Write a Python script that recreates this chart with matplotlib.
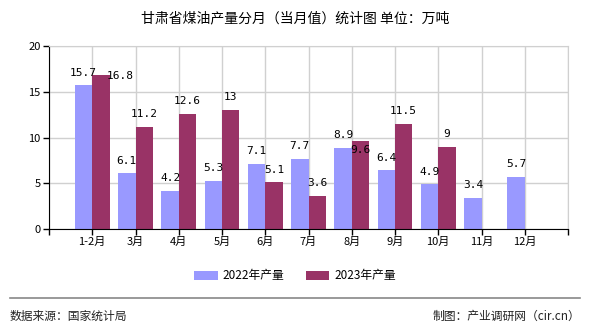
import matplotlib
matplotlib.use("Agg")
import matplotlib.pyplot as plt
import numpy as np

plt.rcParams["font.family"] = ["Noto Sans CJK SC", "DejaVu Sans"]

# data
months = ["1-2月", "3月", "4月", "5月", "6月", "7月", "8月", "9月", "10月", "11月", "12月"]
prod_2022 = [15.7, 6.1, 4.2, 5.3, 7.1, 7.7, 8.9, 6.4, 4.9, 3.4, 5.7]
prod_2023 = [16.8, 11.2, 12.6, 13, 5.1, 3.6, 9.6, 11.5, 9, None, None]
yticks = [0, 5, 10, 15, 20]

c22 = "#9999FF"
c23 = "#993366"
width = 0.4

fig = plt.figure(figsize=(5.9, 3.3), dpi=100)
ax = fig.add_axes([49 / 590, 1 - 229 / 330, 519 / 590, 183 / 330])

x = np.arange(len(months))
ax.bar(x - width / 2, prod_2022, width, color=c22, label="2022年产量", zorder=2)
x23 = [i for i, v in enumerate(prod_2023) if v is not None]
v23 = [v for v in prod_2023 if v is not None]
ax.bar(np.array(x23) + width / 2, v23, width, color=c23, label="2023年产量", zorder=2)

lab_font = dict(fontsize=8, family=["DejaVu Sans Mono"], ha="center", va="bottom", zorder=3)
for i, v in enumerate(prod_2022):
    ax.annotate(f"{v:g}", (x[i] - width / 2, v), textcoords="offset points",
                xytext=(0, 5.5), **lab_font)
for i, v in zip(x23, v23):
    off = (0, 5.5)
    if i == 0:
        off = (14, -4)
    elif i == 6:
        off = (0, -10)
    ax.annotate(f"{v:g}", (i + width / 2, v), textcoords="offset points",
                xytext=off, **lab_font)

ax.set_xlim(-1, len(months))
ax.set_ylim(0, 20)
ax.set_yticks(yticks)
ax.set_xticks(np.arange(-1, len(months) + 1))
ax.set_xticklabels([""] + months + [""])
ax.tick_params(axis="both", labelsize=8, length=4, width=1, color="black", pad=2)
ax.grid(True, color="#d0d0d0", linewidth=1, zorder=0)
ax.set_axisbelow(True)
for side in ["top", "right"]:
    ax.spines[side].set_color("#d0d0d0")
for side in ["left", "bottom"]:
    ax.spines[side].set_color("black")

fig.text(0.5, 1 - 18 / 330, "甘肃省煤油产量分月（当月值）统计图 单位：万吨",
         ha="center", va="center", fontsize=10)

fig.legend(loc="center", bbox_to_anchor=(0.5, 1 - 276 / 330), ncol=2, frameon=False,
           fontsize=8.5, handlelength=2.0, handleheight=0.8, columnspacing=1.8,
           handletextpad=0.4)

fig.add_artist(plt.Line2D([10 / 590, 580 / 590], [1 - 298 / 330, 1 - 298 / 330],
                          color="#888888", linewidth=1.2))
fig.text(10 / 590, 1 - 316 / 330, "数据来源：国家统计局", ha="left", va="center",
         fontsize=8.5, color="#222222")
fig.text(580 / 590, 1 - 316 / 330, "制图：产业调研网（cir.cn）", ha="right", va="center",
         fontsize=8.5, color="#222222")

fig.savefig("out.png", dpi=100)
